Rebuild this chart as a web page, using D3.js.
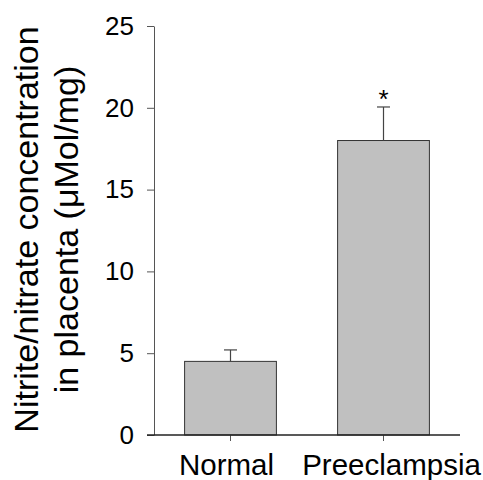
<!DOCTYPE html>
<html>
<head>
<meta charset="utf-8">
<script src="https://cdn.jsdelivr.net/npm/d3@7"></script>
<style>
  body { margin: 0; background: #fff; }
  svg { display: block; font-family: "Liberation Sans", Arial, sans-serif; }
</style>
</head>
<body>
<svg id="chart"></svg>
<script>
// Data
const groups = ['Normal', 'Preeclampsia'];
const means = [4.5, 18.0];
const errors = [0.7, 2.05];
const marks = ['', '*'];
const yTicks = [0, 5, 10, 15, 20, 25];

function drawChart() {
    const width = 483;
    const height = 480;
    const margin = { top: 26, right: 23, bottom: 45, left: 154 };

    const svg = d3.select('#chart')
        .attr('width', width)
        .attr('height', height);

    // Scales
    const x = d3.scaleBand()
        .domain(groups)
        .range([margin.left, width - margin.right])
        .paddingInner(0.4)
        .paddingOuter(0.2);

    const y = d3.scaleLinear()
        .domain([0, 25])
        .range([height - margin.bottom, margin.top]);

    // Y axis
    const yAxis = svg.append('g')
        .attr('transform', `translate(${margin.left},0)`)
        .call(d3.axisLeft(y).tickValues(yTicks).tickSize(7).tickSizeOuter(0).tickPadding(13));
    yAxis.select('.domain').attr('stroke', '#555');
    yAxis.selectAll('.tick line').attr('stroke', '#555');
    yAxis.selectAll('.tick text')
        .style('font-size', '26px')
        .attr('fill', '#000');

    // Bars
    svg.selectAll('rect.bar')
        .data(groups)
        .join('rect')
        .attr('class', 'bar')
        .attr('x', d => x(d))
        .attr('y', (d, i) => y(means[i]))
        .attr('width', x.bandwidth())
        .attr('height', (d, i) => y(0) - y(means[i]))
        .attr('fill', '#c0c0c0')
        .attr('stroke', '#333')
        .attr('stroke-width', 1);

    // Error bars (upper only)
    const err = svg.append('g')
        .attr('stroke', '#444')
        .attr('stroke-width', 1.2);
    groups.forEach((g, i) => {
        const cx = x(g) + x.bandwidth() / 2;
        err.append('line')
            .attr('x1', cx).attr('x2', cx)
            .attr('y1', y(means[i])).attr('y2', y(means[i] + errors[i]));
        err.append('line')
            .attr('x1', cx - 6.5).attr('x2', cx + 6.5)
            .attr('y1', y(means[i] + errors[i])).attr('y2', y(means[i] + errors[i]));
    });

    // Significance marks
    svg.selectAll('text.mark')
        .data(groups)
        .join('text')
        .attr('class', 'mark')
        .attr('x', d => x(d) + x.bandwidth() / 2)
        .attr('y', (d, i) => y(means[i] + errors[i]) + 1)
        .attr('text-anchor', 'middle')
        .style('font-size', '26px')
        .text((d, i) => marks[i]);

    // X axis
    const xAxis = svg.append('g')
        .attr('transform', `translate(0,${y(0)})`)
        .call(d3.axisBottom(x).tickSize(6).tickSizeOuter(0).tickPadding(13));
    xAxis.select('.domain').remove();
    xAxis.selectAll('.tick line').attr('stroke', '#555');
    // labels sit a little off their ticks in the original
    const labelShift = [-4, 8];
    xAxis.selectAll('.tick text')
        .style('font-size', '29.5px')
        .attr('fill', '#000')
        .attr('dx', (d, i) => labelShift[i]);
    xAxis.append('line')
        .attr('x1', margin.left - 7)
        .attr('x2', width - margin.right)
        .attr('stroke', '#222')
        .attr('stroke-width', 1.5);

    // Y axis title, two lines
    const midY = (y(0) + y(25)) / 2;
    const title = svg.append('text')
        .attr('transform', `translate(38,${midY - 1}) rotate(-90)`)
        .attr('text-anchor', 'middle')
        .style('font-size', '34px')
        .attr('fill', '#000');
    title.append('tspan')
        .attr('x', 0).attr('y', 0)
        .text('Nitrite/nitrate concentration');
    title.append('tspan')
        .attr('x', 0).attr('y', 40)
        .text('in placenta (\u03bcMol/mg)');
}

drawChart();
</script>
</body>
</html>
